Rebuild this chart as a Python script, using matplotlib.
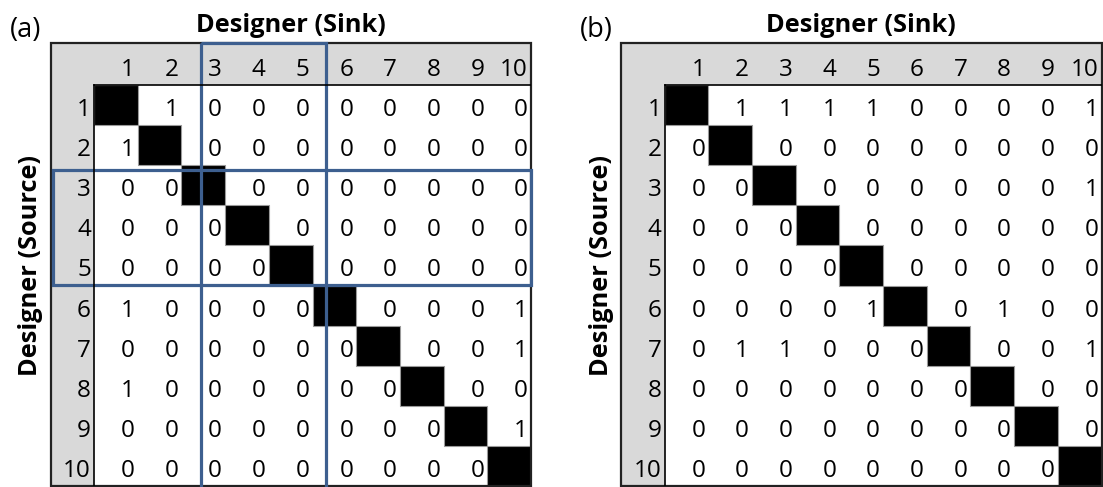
import numpy as np
import matplotlib.pyplot as plt
from matplotlib.patches import Rectangle

plt.rcParams['font.family'] = ['Open Sans', 'DejaVu Sans']

designers = [str(i) for i in range(1, 11)]

# -1 marks the diagonal (black cell)
dsm_a = [
    [-1, 1, 0, 0, 0, 0, 0, 0, 0, 0],
    [1, -1, 0, 0, 0, 0, 0, 0, 0, 0],
    [0, 0, -1, 0, 0, 0, 0, 0, 0, 0],
    [0, 0, 0, -1, 0, 0, 0, 0, 0, 0],
    [0, 0, 0, 0, -1, 0, 0, 0, 0, 0],
    [1, 0, 0, 0, 0, -1, 0, 0, 0, 1],
    [0, 0, 0, 0, 0, 0, -1, 0, 0, 1],
    [1, 0, 0, 0, 0, 0, 0, -1, 0, 0],
    [0, 0, 0, 0, 0, 0, 0, 0, -1, 1],
    [0, 0, 0, 0, 0, 0, 0, 0, 0, -1],
]
dsm_b = [
    [-1, 1, 1, 1, 1, 0, 0, 0, 0, 1],
    [0, -1, 0, 0, 0, 0, 0, 0, 0, 0],
    [0, 0, -1, 0, 0, 0, 0, 0, 0, 1],
    [0, 0, 0, -1, 0, 0, 0, 0, 0, 0],
    [0, 0, 0, 0, -1, 0, 0, 0, 0, 0],
    [0, 0, 0, 0, 1, -1, 0, 1, 0, 0],
    [0, 1, 1, 0, 0, 0, -1, 0, 0, 1],
    [0, 0, 0, 0, 0, 0, 0, -1, 0, 0],
    [0, 0, 0, 0, 0, 0, 0, 0, -1, 0],
    [0, 0, 0, 0, 0, 0, 0, 0, 0, -1],
]
# highlighted group in (a): designers 3..5 (0-based start, end)
group_a = (2, 5)

W, H = 1103, 487
CW, RH = 43.7, 40.1      # cell width / height in px
HW, HH = 43.5, 41.7      # header col width / header row height in px
TOP = 43.3
FS = 17.5
BLUE = '#3d5f8f'

fig = plt.figure(figsize=(W / 100, H / 100), dpi=100)


def draw_dsm(left, dsm, label, group=None):
    n = len(dsm)
    hw, hh = HW / CW, HH / RH
    width = HW + n * CW
    height = HH + n * RH
    ax = fig.add_axes([left / W, 1 - (TOP + height) / H, width / W, height / H])
    ax.set_xlim(-hw, n)
    ax.set_ylim(n, -hh)
    ax.axis('off')

    # grey headers
    ax.add_patch(Rectangle((-hw, -hh), n + hw, hh, fc='#d9d9d9', ec='none'))
    ax.add_patch(Rectangle((-hw, 0), hw, n, fc='#d9d9d9', ec='none'))

    px = 3.0 / CW
    for i in range(n):
        ax.text(i + 1 - px, -9 / RH, designers[i], ha='right', va='baseline', fontsize=FS)
        ax.text(-px, i + 1 - 9 / RH, designers[i], ha='right', va='baseline', fontsize=FS)
        for j in range(n):
            v = dsm[i][j]
            if v < 0:
                ax.add_patch(Rectangle((j, i), 1, 1, fc='black', ec='#9a9a9a', lw=0.8))
            else:
                ax.text(j + 1 - px, i + 1 - 9 / RH, str(v), ha='right', va='baseline', fontsize=FS)

    # inner header borders and outer frame
    ax.plot([0, n], [0, 0], color='black', lw=1.2)
    ax.plot([0, 0], [0, n], color='black', lw=1.2)
    ax.add_patch(Rectangle((-hw, -hh), n + hw, n + hh, fc='none', ec='#222222', lw=1.6, clip_on=False))

    if group is not None:
        g0, g1 = group
        ax.add_patch(Rectangle((g0 + 0.44, -hh), g1 - g0 - 0.14, n + hh + 0.1,
                               fc='none', ec=BLUE, lw=2.3, clip_on=False))
        ax.add_patch(Rectangle((-hw + 0.05, g0 + 0.12), n + hw - 0.05, g1 - g0 - 0.13,
                               fc='none', ec=BLUE, lw=2.3, clip_on=False))

    cx = (left + width / 2) / W
    fig.text(cx, 1 - 32.3 / H, 'Designer (Sink)', ha='center', va='baseline',
             fontsize=18.3, fontweight='bold')
    fig.text((left - 20) / W, 1 - 265 / H, 'Designer (Source)', ha='center', va='center',
             rotation=90, fontsize=18.3, fontweight='bold')
    fig.text((left - 41) / W, 1 - 37 / H, label, ha='left', va='baseline', fontsize=19.5)
    return ax


draw_dsm(50.5, dsm_a, '(a)', group_a)
draw_dsm(621, dsm_b, '(b)')

plt.savefig('out.png', dpi=100)
